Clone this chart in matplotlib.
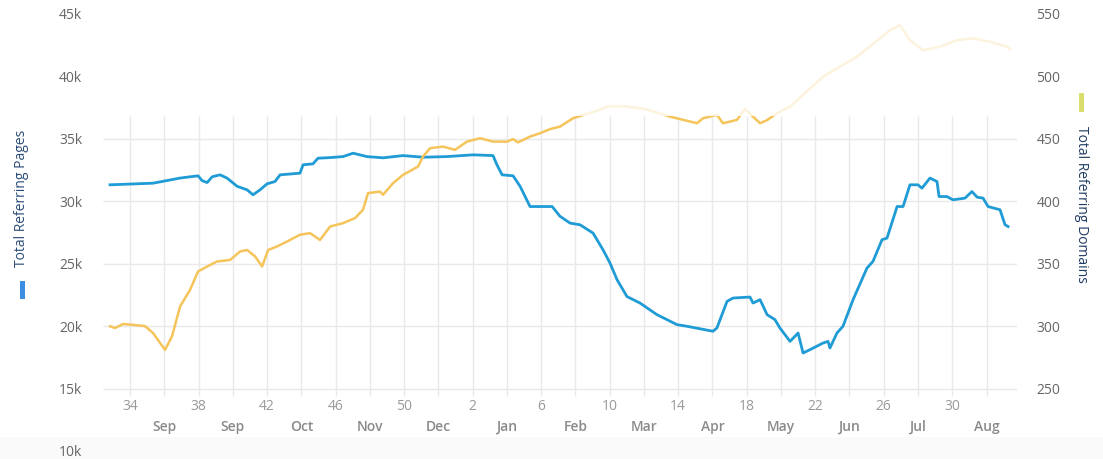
import matplotlib
matplotlib.use("Agg")
import matplotlib.pyplot as plt
from matplotlib.patches import Rectangle
from matplotlib.transforms import blended_transform_factory

plt.rcParams['font.family'] = ['Open Sans', 'DejaVu Sans']

# Continuous week index (weeks 34..52 of year one, then 1..33 of year two as 53..85)
pages_weeks = [32.83, 35.34, 36.16, 36.92, 37.97, 38.20, 38.50, 38.79, 39.25, 39.66,
               40.25, 40.83, 41.18, 41.59, 42.00, 42.46, 42.76, 43.92, 44.10, 44.68,
               44.97, 45.68, 46.43, 47.02, 47.83, 48.77, 49.94, 51.10, 52.51, 54.02,
               55.19, 55.42, 55.72, 56.36, 56.77, 57.35, 58.64, 59.10, 59.69, 60.27,
               61.03, 61.61, 62.02, 62.43, 63.01, 63.77, 64.76, 65.93, 66.51, 68.03,
               68.26, 68.85, 69.20, 70.19, 70.37, 70.78, 71.19, 71.65, 71.94, 72.53,
               73.00, 73.29, 73.70, 74.46, 74.75, 74.86, 75.27, 75.62, 76.21, 77.02,
               77.37, 77.90, 78.19, 78.78, 79.13, 79.53, 80.00, 80.23, 80.70, 81.11,
               81.23, 81.69, 82.04, 82.74, 83.15, 83.45, 83.80, 84.09, 84.79, 85.08,
               85.26]
pages_values = [31320, 31450, 31660, 31860, 32040, 31660, 31500, 31960, 32120, 31860,
                31200, 30920, 30520, 30920, 31400, 31580, 32120, 32250, 32920, 33000,
                33450, 33500, 33580, 33850, 33580, 33480, 33660, 33530, 33580, 33720,
                33660, 32920, 32120, 32040, 31200, 29580, 29580, 28800, 28250, 28120,
                27450, 26120, 25050, 23720, 22370, 21850, 20920, 20120, 19990, 19590,
                19850, 21980, 22250, 22330, 21850, 22120, 20920, 20520, 19850, 18780,
                19450, 17850, 18120, 18650, 18780, 18250, 19450, 19990, 22120, 24650,
                25180, 26920, 27050, 29580, 29580, 31320, 31320, 31050, 31860, 31580,
                30380, 30380, 30120, 30250, 30780, 30330, 30250, 29580, 29320, 28120,
                27980]

domains_weeks = [32.83, 33.12, 33.59, 34.18, 34.88, 35.34, 36.04, 36.45, 36.92, 37.50,
                 37.97, 38.67, 39.08, 39.84, 40.42, 40.83, 41.30, 41.71, 42.06, 42.58,
                 43.17, 43.92, 44.51, 45.09, 45.68, 46.43, 47.13, 47.60, 47.89, 48.59,
                 48.77, 49.35, 49.94, 50.81, 51.10, 51.51, 52.27, 52.97, 53.67, 54.43,
                 55.19, 56.01, 56.36, 56.65, 57.35, 57.93, 58.52, 59.10, 59.86, 60.44,
                 61.15, 61.90, 62.90, 64.06, 65.52, 67.10, 67.45, 68.26, 68.62, 69.43,
                 69.90, 70.37, 70.78, 71.19, 71.77, 72.53, 74.46, 76.44, 78.37, 78.95,
                 79.53, 80.29, 81.29, 82.28, 83.21, 84.20, 85.20, 85.37]
domains_values = [299.9, 298.5, 301.7, 301.0, 300.0, 294.5, 281.0, 291.9, 315.8, 329.0,
                  343.8, 349.0, 351.8, 353.0, 359.8, 361.0, 355.8, 347.8, 361.0, 363.8,
                  367.8, 373.2, 374.5, 369.0, 379.8, 382.5, 386.5, 393.2, 406.5, 407.8,
                  405.2, 414.5, 421.2, 427.8, 435.8, 442.5, 443.8, 441.2, 447.8, 450.5,
                  447.8, 447.8, 449.8, 447.2, 451.8, 454.5, 457.8, 459.8, 466.5, 469.0,
                  472.0, 476.0, 476.0, 474.0, 467.8, 462.5, 466.5, 469.2, 462.5, 465.2,
                  474.0, 467.8, 462.5, 465.0, 470.6, 475.8, 499.8, 515.8, 537.0, 541.0,
                  529.0, 521.0, 523.8, 529.0, 530.5, 527.8, 523.8, 522.0]

week_ticks = [34, 38, 42, 46, 50, 54, 58, 62, 66, 70, 74, 78, 82]
week_labels = ["34", "38", "42", "46", "50", "2", "6", "10", "14", "18", "22", "26", "30"]
month_ticks = [36, 40, 44, 48, 52, 56, 60, 64, 68, 72, 76, 80, 84]
month_labels = ["Sep", "Sep", "Oct", "Nov", "Dec", "Jan", "Feb", "Mar", "Apr", "May",
                "Jun", "Jul", "Aug"]

pages_ticks = [10000, 15000, 20000, 25000, 30000, 35000, 40000, 45000]
pages_tick_labels = ["10k", "15k", "20k", "25k", "30k", "35k", "40k", "45k"]
domains_ticks = [250, 300, 350, 400, 450, 500, 550]
grid_rows = [15000, 20000, 25000, 30000, 35000]

W, H = 1103, 459
fig = plt.figure(figsize=(W / 100, H / 100), dpi=100)
fig.patch.set_facecolor("white")

# faint band along the bottom edge
fig.add_artist(Rectangle((0, 0), 1, 22 / H, transform=fig.transFigure,
                         facecolor="#fafafa", edgecolor="none", zorder=-1))

left, right = 103 / W, 1017 / W
bottom, top = 1 - 451 / H, 1 - 14 / H
ax = fig.add_axes([left, bottom, right - left, top - bottom])
ax.patch.set_visible(False)
ax.set_xlim(32.42, 85.78)
ax.set_ylim(10000, 45000)
for s in ax.spines.values():
    s.set_visible(False)

grid_c = "#e9e9e9"
ax.hlines(grid_rows, 32.42, 85.78, color=grid_c, lw=1.0, zorder=0)
ax.vlines(sorted(week_ticks + month_ticks), 14400, 36840, color=grid_c, lw=1.0, zorder=0)

ax.plot(pages_weeks, pages_values, color="#1f9bd5", lw=2.0, solid_joinstyle="round",
        zorder=3)

ax.set_xticks([])
ax.set_yticks(pages_ticks, labels=pages_tick_labels)
ax.tick_params(axis="y", length=0, pad=15, labelsize=10, labelcolor="#666666")

tr = blended_transform_factory(ax.transData, ax.transAxes)
for x, lab in zip(week_ticks, week_labels):
    ax.text(x, 44 / 437, lab, transform=tr, ha="center", va="center",
            fontsize=10, color="#9a9a9a")
for x, lab in zip(month_ticks, month_labels):
    ax.text(x, 24 / 437, lab, transform=tr, ha="center", va="center",
            fontsize=10, color="#8a8a8a", fontweight="semibold")

ax2 = ax.twinx()
ax2.patch.set_visible(False)
ax2.set_ylim(200, 550)
for s in ax2.spines.values():
    s.set_visible(False)
ax2.plot(domains_weeks, domains_values, color="#f5c45a", lw=1.8, solid_joinstyle="round",
         zorder=3)
ax2.set_yticks(domains_ticks, labels=[str(v) for v in domains_ticks])
ax2.tick_params(axis="y", length=0, pad=14, labelsize=10, labelcolor="#666666")

# washed-out upper strip of the plotting area
fig.add_artist(Rectangle((98 / W, 1 - 116 / H), (1030 - 98) / W, 116 / H,
                         transform=fig.transFigure, facecolor="white", alpha=0.8,
                         edgecolor="none", zorder=5))

# axis titles with their colour keys
fig.text(22 / W, 1 - 198 / H, "Total Referring Pages", rotation=90, ha="center",
         va="center", fontsize=10, color="#2b4c78")
fig.add_artist(Rectangle((20 / W, 1 - 299 / H), 5 / W, 18 / H, transform=fig.transFigure,
                         facecolor="#3b8ee2", edgecolor="none"))
fig.text(1081 / W, 1 - 204 / H, "Total Referring Domains", rotation=-90, ha="center",
         va="center", fontsize=10, color="#1f3c63")
fig.add_artist(Rectangle((1078.5 / W, 1 - 112 / H), 5 / W, 19 / H,
                         transform=fig.transFigure, facecolor="#dadd6c", edgecolor="none"))

fig.savefig("out.png", dpi=100)
